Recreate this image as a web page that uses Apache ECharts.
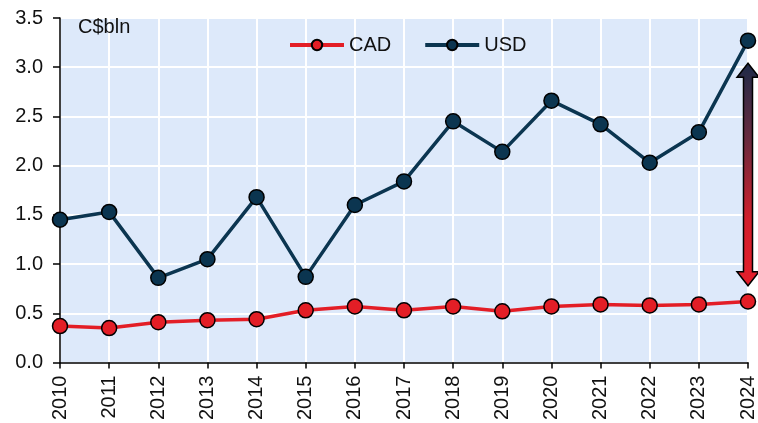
<!DOCTYPE html>
<html>
<head>
<meta charset="utf-8">
<script src="https://cdn.jsdelivr.net/npm/echarts@6/dist/echarts.min.js"></script>
<style>
  html, body { margin: 0; padding: 0; background: #fff; }
  #chart { width: 758px; height: 423px; }
</style>
</head>
<body>
<div id="chart"></div>
<script>
// Data
const years = ['2010', '2011', '2012', '2013', '2014', '2015', '2016', '2017',
               '2018', '2019', '2020', '2021', '2022', '2023', '2024'];
const cadValues = [0.37, 0.35, 0.41, 0.43, 0.44, 0.53, 0.57, 0.53,
                   0.57, 0.52, 0.57, 0.59, 0.58, 0.59, 0.62];
const usdValues = [1.45, 1.53, 0.86, 1.05, 1.68, 0.87, 1.60, 1.84,
                   2.45, 2.14, 2.66, 2.42, 2.03, 2.34, 3.27];
// Gap arrow drawn at the last year, between these two values
const arrowYear = '2024';
const arrowRange = [3.04, 0.78];

const FONT = "Liberation Sans, Arial, sans-serif";
const colors = {
    cad: '#e31e26',
    usd: '#0b3550',
    plotBg: '#dde9fa',
    grid: '#ffffff',
    axis: '#000000',
    text: '#111111'
};

const chart = echarts.init(document.getElementById('chart'), null, { renderer: 'canvas' });

const option = {
    animation: false,
    textStyle: { fontFamily: FONT },
    grid: {
        left: 60,
        right: 10,
        top: 18,
        bottom: 59,
        show: true,
        backgroundColor: colors.plotBg,
        borderWidth: 0
    },
    legend: {
        top: 35,
        left: 288,
        padding: 0,
        itemWidth: 54,
        itemHeight: 13,
        itemGap: 32,
        lineStyle: { width: 4 },
        textStyle: { fontSize: 20, color: colors.text, fontFamily: FONT },
        data: ['CAD', 'USD']
    },
    xAxis: {
        type: 'category',
        data: years,
        boundaryGap: false,
        axisLine: { lineStyle: { color: colors.axis, width: 1.5 } },
        axisTick: { show: true, length: 6, lineStyle: { color: colors.axis, width: 1.5 } },
        axisLabel: {
            rotate: 90,
            fontSize: 20,
            color: colors.text,
            margin: 13,
            fontFamily: FONT
        },
        splitLine: { show: true, lineStyle: { color: colors.grid, width: 2 } }
    },
    yAxis: {
        type: 'value',
        min: 0,
        max: 3.5,
        interval: 0.5,
        axisLine: { show: true, lineStyle: { color: colors.axis, width: 1.5 } },
        axisTick: { show: true, length: 7, lineStyle: { color: colors.axis, width: 1.5 } },
        axisLabel: {
            fontSize: 20,
            color: colors.text,
            margin: 17,
            fontFamily: FONT,
            formatter: v => v.toFixed(1)
        },
        splitLine: { show: true, lineStyle: { color: colors.grid, width: 2 } }
    },
    series: [
        {
            name: 'CAD',
            type: 'line',
            data: cadValues,
            symbol: 'circle',
            symbolSize: 15,
            lineStyle: { color: colors.cad, width: 3.5 },
            itemStyle: { color: colors.cad, borderColor: '#000', borderWidth: 1.5 },
            z: 3
        },
        {
            name: 'USD',
            type: 'line',
            data: usdValues,
            symbol: 'circle',
            symbolSize: 15,
            lineStyle: { color: colors.usd, width: 3.5 },
            itemStyle: { color: colors.usd, borderColor: '#000', borderWidth: 1.5 },
            z: 3
        }
    ]
};

chart.setOption(option);

// Unit label plus double-headed gradient arrow placed with the chart's own scales
function drawOverlay() {
    const top = chart.convertToPixel({ gridIndex: 0 }, [arrowYear, arrowRange[0]]);
    const bottom = chart.convertToPixel({ gridIndex: 0 }, [arrowYear, arrowRange[1]]);
    const cx = top[0];
    const yt = top[1];
    const yb = bottom[1];
    const headW = 11, headH = 14, shaftW = 4.5;
    const points = [
        [cx, yt],
        [cx + headW, yt + headH],
        [cx + shaftW, yt + headH],
        [cx + shaftW, yb - headH],
        [cx + headW, yb - headH],
        [cx, yb],
        [cx - headW, yb - headH],
        [cx - shaftW, yb - headH],
        [cx - shaftW, yt + headH],
        [cx - headW, yt + headH]
    ];
    chart.setOption({
        graphic: [
            {
                type: 'text',
                x: 78,
                y: 17,
                z: 10,
                style: {
                    text: 'C$bln',
                    font: '20px ' + FONT,
                    fill: colors.text
                }
            },
            {
                type: 'polygon',
                z: 10,
                shape: { points: points },
                style: {
                    fill: new echarts.graphic.LinearGradient(0, 0, 0, 1, [
                        { offset: 0, color: '#1d2a48' },
                        { offset: 0.35, color: '#6a2a3e' },
                        { offset: 0.7, color: '#d11f2c' },
                        { offset: 1, color: '#e41e2b' }
                    ]),
                    stroke: '#000',
                    lineWidth: 1.5
                }
            }
        ]
    });
}

drawOverlay();
</script>
</body>
</html>
